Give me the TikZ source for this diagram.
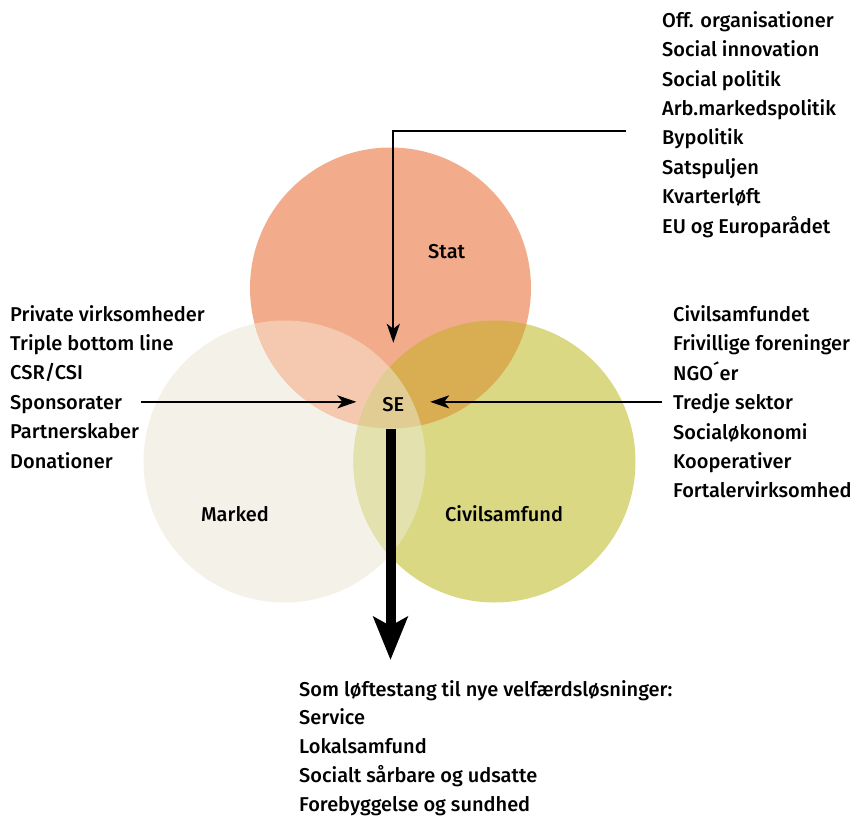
\documentclass[tikz,border=0pt]{standalone}
\usepackage{fontspec}
\setmainfont{Fira Sans}[UprightFont={* Medium}]
\usetikzlibrary{arrows.meta}
\definecolor{statcol}{HTML}{F2AC8C}
\definecolor{markcol}{HTML}{F4F1E8}
\definecolor{civcol}{HTML}{DBD884}
\definecolor{statmark}{HTML}{F4C9B0}
\definecolor{statciv}{HTML}{D9AE52}
\definecolor{markciv}{HTML}{E3E1AE}
\definecolor{allthree}{HTML}{E1CC94}
\def\statpath{(stat) circle[radius=140.5pt]}
\def\markpath{(mark) circle[radius=141pt]}
\def\civpath{(civ) circle[radius=141pt]}
\tikzset{
  txt/.style={anchor=base west, inner sep=0pt},
  lbl/.style={anchor=base, inner sep=0pt},
  conn/.style={line width=2pt, -{Stealth[length=19pt,width=13pt,inset=5pt]}},
  bigconn/.style={line width=10pt, -{Stealth[length=43pt,width=34pt,inset=9pt]}}
}

\begin{document}
\begin{tikzpicture}[x=1pt,y=-1pt,font=\fontsize{20}{24}\selectfont]
	%%%%% CIRCLES %%%%%
	\useasboundingbox (0,0) rectangle (854,816);
	\coordinate (stat) at (390.5,288);
	\coordinate (mark) at (284.5,461.5);
	\coordinate (civ) at (494.5,461.5);
	
	\fill[markcol] \markpath;
	\fill[civcol] \civpath;
	\fill[statcol] \statpath;
	
	\begin{scope}
		\clip \statpath;
		\fill[statmark] \markpath;
		\fill[statciv] \civpath;
	\end{scope}
	\begin{scope}
		\clip \markpath;
		\fill[markciv] \civpath;
		\clip \statpath;
		\fill[allthree] \civpath;
	\end{scope}
	
	%%%%% LABELS %%%%%
	\node[lbl] (stat-lbl) at (446.7,258.3) {Stat};
	\node[lbl] (mark-lbl) at (235,521.7) {Marked};
	\node[lbl] (civ-lbl) at (504,521.7) {Civilsamfund};
	\node[lbl, text height=20pt, inner xsep=25.8pt, inner ysep=48.7pt] (se) at (393.3,411.7) {SE};
	
	%%%%% TEXT BLOCKS %%%%%
	\foreach \t [count=\i] in {Off. organisationer, Social innovation, Social politik, Arb.markedspolitik, Bypolitik, Satspuljen, Kvarterløft, EU og Europarådet}
		\node[txt] (off-\i) at (662,{27.3+29.4*(\i-1)}) {\t};
	
	\foreach \t [count=\i] in {Private virksomheder, Triple bottom line, CSR/CSI, Sponsorater, Partnerskaber, Donationer}
		\node[txt] (priv-\i) at (10,{321+29.4*(\i-1)}) {\t};
	
	\foreach \t [count=\i] in {Civilsamfundet, Frivillige foreninger, NGO´er, Tredje sektor, Socialøkonomi, Kooperativer, Fortalervirksomhed}
		\node[txt] (ngo-\i) at (673,{321.5+29.4*(\i-1)}) {\t};
	
	\foreach \t [count=\i] in {Som løftestang til nye velfærdsløsninger:, Service, Lokalsamfund, Socialt sårbare og udsatte, Forebyggelse og sundhed}
		\node[txt] (vel-\i) at (299,{696+28.75*(\i-1)}) {\t};
	
	%%%%% ARROWS %%%%%
	\coordinate (off-in) at (626,130.5);
	\coordinate (vel-in) at (390.5,660);
	\draw[conn] (off-in) -| (se.north);
	\draw[conn, shorten <=19pt] (priv-4.east |- se.west) -- (se.west);
	\draw[conn, shorten <=11pt] (ngo-4.west |- se.east) -- (se.east);
	\draw[bigconn] ([yshift=-140.5pt]stat) -- (vel-in);
\end{tikzpicture}
\end{document}
